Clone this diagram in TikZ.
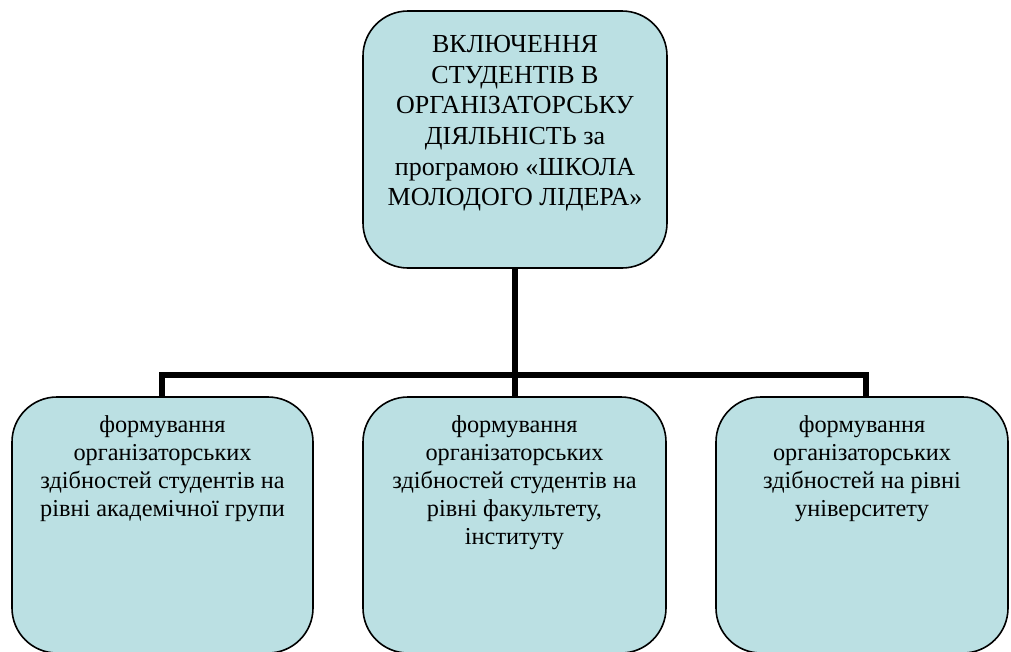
\documentclass[tikz,border=0pt]{standalone}
\usepackage{fontspec}
\setmainfont{Liberation Serif}
\definecolor{boxfill}{HTML}{BBE0E3}
\begin{document}
\begin{tikzpicture}[x=1pt,y=-1pt,
  box/.style={draw=black, line width=1.6pt, fill=boxfill, rounded corners=45pt, inner sep=0pt},
  toptext/.style={anchor=north, align=center, inner sep=0pt, font=\fontsize{26}{30.7}\selectfont},
  bottext/.style={anchor=north, align=center, inner sep=0pt, font=\fontsize{24.3}{28}\selectfont},
  conn/.style={draw=black, line width=6pt}]
\useasboundingbox (0,0) rectangle (1011,651);
% boxes
\node[box, minimum width=304pt, minimum height=257pt] (top) at (515,139.5) {};
\node[box, minimum width=301pt, minimum height=256pt] (left) at (162.5,525) {};
\node[box, minimum width=303pt, minimum height=256pt] (mid) at (514.5,525) {};
\node[box, minimum width=292pt, minimum height=256pt] (right) at (862,525) {};
% texts
\node[toptext] (toptxt) at (515,35) {ВКЛЮЧЕННЯ\\СТУДЕНТІВ В\\ОРГАНІЗАТОРСЬКУ\\ДІЯЛЬНІСТЬ за\\програмою «ШКОЛА\\МОЛОДОГО ЛІДЕРА»};
\node[bottext] (lefttxt) at (162.5,415) {формування\\організаторських\\здібностей студентів на\\рівні академічної групи};
\node[bottext] (midtxt) at (514.5,415) {формування\\організаторських\\здібностей студентів на\\рівні факультету,\\інституту};
\node[bottext] (righttxt) at (862,415) {формування\\організаторських\\здібностей на рівні\\університету};
% connectors
\coordinate (j) at (515,375);
\coordinate (jl) at (162,375);
\coordinate (jr) at (866,375);
\draw[conn] (top.south) -- (j);
\draw[conn] (left.north -| jl) -- (jl) -- (jr) -- (right.north -| jr);
\draw[conn] (j) -- (mid.north -| j);
\end{tikzpicture}
\end{document}
